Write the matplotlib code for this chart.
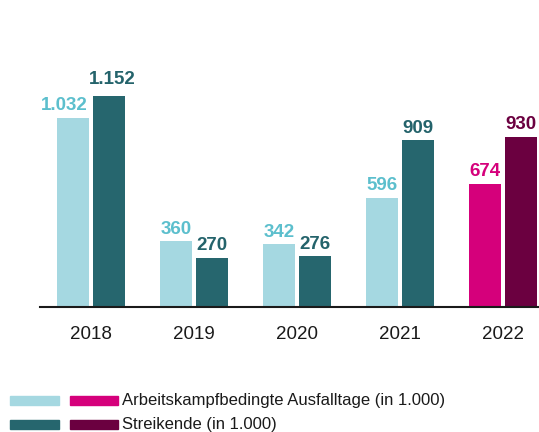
import matplotlib
matplotlib.use("Agg")
import matplotlib.pyplot as plt
from matplotlib.patches import Rectangle

years = ["2018", "2019", "2020", "2021", "2022"]
ausfalltage = [1032, 360, 342, 596, 674]
streikende = [1152, 270, 276, 909, 930]
labels_a = ["1.032", "360", "342", "596", "674"]
labels_s = ["1.152", "270", "276", "909", "930"]
legend_labels = ["Arbeitskampfbedingte Ausfalltage (in 1.000)", "Streikende (in 1.000)"]

plt.rcParams['font.family'] = ['Liberation Sans', 'DejaVu Sans']

light = "#A5D8E1"; dark = "#26666E"; pink = "#D5007B"; maroon = "#6B0040"
light_t = "#5CBFCD"; dark_t = "#24636B"

W, H = 539, 432
fig = plt.figure(figsize=(W/100, H/100), dpi=100)
ax = fig.add_axes([40/W, (H-307)/H, 499/W, 307/H])

bw = 0.315
off = 0.175
for i, y in enumerate(years):
    ca, cs = (light, dark) if i < 4 else (pink, maroon)
    ta, ts = (light_t, dark_t) if i < 4 else (pink, maroon)
    ax.bar(i - off, ausfalltage[i], bw, color=ca)
    ax.bar(i + off, streikende[i], bw, color=cs)
    dxa = -6 if i == 0 else 0
    dxs = 2 if i == 0 else 0
    dys = 6 if i == 0 else 2.5
    ax.annotate(labels_a[i], (i - off, ausfalltage[i]), xytext=(dxa, 2.5), textcoords="offset points",
                ha="center", va="bottom", fontsize=13.5, fontweight="bold", color=ta)
    ax.annotate(labels_s[i], (i + off, streikende[i]), xytext=(dxs, dys), textcoords="offset points",
                ha="center", va="bottom", fontsize=13.5, fontweight="bold", color=ts)

ax.set_xlim(-0.495, 4.35)
ax.set_ylim(0, 1676)
ax.set_xticks(range(5))
ax.set_xticklabels(years, fontsize=13.5, color="#1a1a1a")
ax.tick_params(axis="x", length=0, pad=14)
ax.set_yticks([])
for s in ["top", "right", "left"]:
    ax.spines[s].set_visible(False)
ax.spines["bottom"].set_linewidth(1.5)
ax.spines["bottom"].set_color("#1a1a1a")

def frect(x0, y0, w, h, c):
    fig.patches.append(Rectangle((x0/W, 1-(y0+h)/H), w/W, h/H, transform=fig.transFigure, color=c))
frect(10, 396, 49, 9, light)
frect(70, 396, 48, 9, pink)
frect(10, 420, 49, 9, dark)
frect(70, 420, 48, 9, maroon)
fig.text(122/W, 1-401/H, legend_labels[0], fontsize=12, va="center", ha="left", color="#1a1a1a")
fig.text(122/W, 1-424/H, legend_labels[1], fontsize=12, va="center", ha="left", color="#1a1a1a")

fig.savefig("out.png", dpi=100)
